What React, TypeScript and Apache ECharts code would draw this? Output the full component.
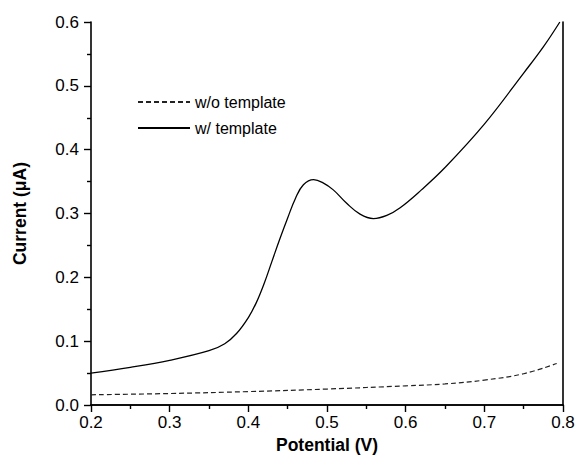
import React, { useEffect, useRef } from "react";
import * as echarts from "echarts";

const withTemplateX = [0.2, 0.25, 0.3, 0.35, 0.37, 0.385, 0.4, 0.41, 0.42, 0.43, 0.44, 0.45, 0.46, 0.47, 0.483, 0.495, 0.508, 0.525, 0.542, 0.559, 0.576, 0.593, 0.62, 0.65, 0.7, 0.75, 0.775, 0.796];
const withTemplateY = [0.05, 0.059, 0.07, 0.085, 0.096, 0.112, 0.137, 0.16, 0.19, 0.225, 0.26, 0.293, 0.324, 0.345, 0.353, 0.348, 0.337, 0.316, 0.299, 0.292, 0.297, 0.309, 0.337, 0.372, 0.44, 0.52, 0.561, 0.6];
const withoutTemplateX = [0.2, 0.3, 0.4, 0.5, 0.6, 0.65, 0.7, 0.75, 0.792];
const withoutTemplateY = [0.016, 0.018, 0.021, 0.025, 0.03, 0.033, 0.039, 0.049, 0.065];
const seriesNames = ["w/o template", "w/ template"];

const FONT = "'Liberation Sans', Arial, sans-serif";

export default function App() {
  const ref = useRef<HTMLDivElement>(null);
  useEffect(() => {
    if (!ref.current) return;
    document.body.style.margin = "0";
    const chart = echarts.init(ref.current, undefined, { renderer: "svg" });
    const pair = (xs: number[], ys: number[]) => xs.map((x, i) => [x, ys[i]]);
    const axisLine = { show: true, lineStyle: { color: "#000", width: 1.6 } };
    chart.setOption({
      animation: false,
      backgroundColor: "#fff",
      grid: { left: 91, right: 15, top: 22, bottom: 63 },
      legend: {
        orient: "vertical",
        left: 132,
        top: 89,
        itemWidth: 52,
        itemHeight: 12,
        itemGap: 10,
        data: seriesNames,
        itemStyle: { opacity: 0 },
        textStyle: { fontFamily: FONT, fontSize: 16, color: "#000" },
      },
      xAxis: [
        {
          type: "value",
          min: 0.2,
          max: 0.8,
          interval: 0.1,
          name: "Potential (V)",
          nameLocation: "middle",
          nameGap: 25,
          nameTextStyle: { fontFamily: FONT, fontSize: 17.5, fontWeight: "bold", color: "#000" },
          axisLine,
          axisTick: { show: true, inside: false, length: 7, lineStyle: { color: "#000", width: 1.4 } },
          minorTick: { show: true, splitNumber: 2, length: 4, lineStyle: { color: "#000", width: 1.4 } },
          splitLine: { show: false },
          axisLabel: { fontFamily: FONT, fontSize: 17, color: "#000", margin: 9, formatter: (v: number) => v.toFixed(1) },
        },
        {
          type: "value",
          position: "top",
          min: 0.2,
          max: 0.8,
          interval: 0.1,
          axisLine,
          axisTick: { show: false },
          axisLabel: { show: false },
          splitLine: { show: false },
        },
      ],
      yAxis: [
        {
          type: "value",
          min: 0,
          max: 0.6,
          interval: 0.1,
          name: "Current (μA)",
          nameLocation: "middle",
          nameGap: 62,
          nameTextStyle: { fontFamily: FONT, fontSize: 17.5, fontWeight: "bold", color: "#000" },
          axisLine,
          axisTick: { show: true, inside: false, length: 7, lineStyle: { color: "#000", width: 1.4 } },
          minorTick: { show: true, splitNumber: 2, length: 4, lineStyle: { color: "#000", width: 1.4 } },
          splitLine: { show: false },
          axisLabel: { fontFamily: FONT, fontSize: 17, color: "#000", margin: 12, formatter: (v: number) => v.toFixed(1) },
        },
        {
          type: "value",
          position: "right",
          min: 0,
          max: 0.6,
          interval: 0.1,
          axisLine,
          axisTick: { show: false },
          axisLabel: { show: false },
          splitLine: { show: false },
        },
      ],
      series: [
        {
          name: seriesNames[0],
          type: "line",
          data: pair(withoutTemplateX, withoutTemplateY),
          smooth: 0.4,
          symbol: "none",
          lineStyle: { color: "#222", width: 1.2, type: [5, 3] },
          itemStyle: { color: "#222" },
        },
        {
          name: seriesNames[1],
          type: "line",
          data: pair(withTemplateX, withTemplateY),
          smooth: 0.4,
          symbol: "none",
          lineStyle: { color: "#000", width: 1.3 },
          itemStyle: { color: "#000" },
        },
      ],
    });
    return () => chart.dispose();
  }, []);
  return <div ref={ref} style={{ width: 578, height: 468 }} />;
}
